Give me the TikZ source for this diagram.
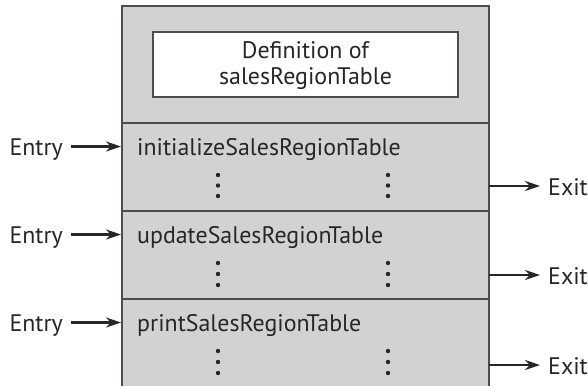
\documentclass[tikz,border=0pt]{standalone}
\usepackage{fontspec}
\setmainfont{PT Sans}
\usepackage{tikz}
\usetikzlibrary{arrows.meta,positioning}
\definecolor{boxgray}{HTML}{D1D2D4}
\definecolor{linegray}{HTML}{4D4D4F}
\tikzset{
  txt/.style={inner sep=0pt, font=\fontsize{24}{26}\selectfont, text=black!85},
  arr/.style={line width=2.2bp, black!85, -{Stealth[length=15bp,width=10bp,inset=5bp]}},
  dot/.style={circle, fill=black!85, inner sep=0pt, minimum size=4.4bp}
}
\begin{document}
\begin{tikzpicture}[x=1bp,y=-1bp]
            \useasboundingbox (0,0) rectangle (588,386);
            % Draw the module box, open at the bottom
            \fill[boxgray] (122,6) rectangle (489,386);
            \draw[linegray, line width=1.3bp] (122,386) -- (122,6) -- (489,6) -- (489,386);
            \draw[linegray, line width=1.1bp] (122,123) -- (489,123);
            \draw[linegray, line width=1.1bp] (122,211) -- (489,211);
            \draw[linegray, line width=1.1bp] (122,299) -- (489,299);
            % Definition of the table
            \node[draw=linegray, line width=1.1bp, fill=white, minimum width=305bp, minimum height=65bp,
                  inner sep=0pt] (def) at (305.5,64.5) {};
            \node[txt, align=center] (deftext) at (305.5,66) {Definition of\\salesRegionTable};
            % Entry points
            \node[txt, anchor=base west] (init) at (137,155.5) {initializeSalesRegionTable};
            \node[txt, anchor=base west] (update) at (137,243.5) {updateSalesRegionTable};
            \node[txt, anchor=base west] (print) at (137,331.5) {printSalesRegionTable};
            \node[txt, anchor=base east] (entryA) at (63,155.5) {Entry};
            \node[txt, anchor=base east] (entryB) at (63,243.5) {Entry};
            \node[txt, anchor=base east] (entryC) at (63,331.5) {Entry};
            \coordinate (inA) at (121,146.5);
            \coordinate (inB) at (121,234.5);
            \coordinate (inC) at (121,322.5);
            \draw[arr] (entryA.east |- inA) ++(8,0) -- (inA);
            \draw[arr] (entryB.east |- inB) ++(8,0) -- (inB);
            \draw[arr] (entryC.east |- inC) ++(8,0) -- (inC);
            % Exit points
            \coordinate (outA) at (489,186);
            \coordinate (outB) at (489,275);
            \coordinate (outC) at (489,365);
            \node[txt, anchor=base west] (exitA) at (548,195) {Exit};
            \node[txt, anchor=base west] (exitB) at (548,284) {Exit};
            \node[txt, anchor=base west] (exitC) at (548,374) {Exit};
            \draw[arr] (outA) -- ([xshift=-8bp]exitA.west |- outA);
            \draw[arr] (outB) -- ([xshift=-8bp]exitB.west |- outB);
            \draw[arr] (outC) -- ([xshift=-8bp]exitC.west |- outC);
            % Dots standing for the omitted code
            \foreach \y in {175,185.5,196, 263,274,285, 351,362,373} {
              \node[dot] at (218,\y) {};
              \node[dot] at (388,\y) {};
            }
\end{tikzpicture}
\end{document}
